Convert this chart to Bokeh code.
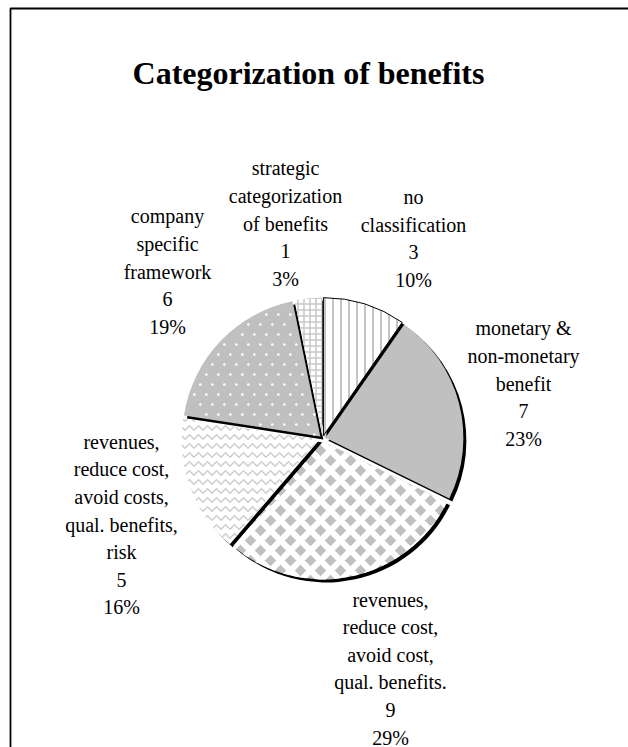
import numpy as np
from bokeh.plotting import figure
from bokeh.models import Range1d
from bokeh.core.properties import value
from bokeh.embed import file_html
from bokeh.resources import INLINE

# ---------------- data ----------------
title = "Categorization of benefits"
categories = [
    "no classification",
    "monetary & non-monetary benefit",
    "revenues, reduce cost, avoid cost, qual. benefits.",
    "revenues, reduce cost, avoid costs, qual. benefits, risk",
    "company specific framework",
    "strategic categorization of benefits",
]
label_lines = [
    ["no", "classification"],
    ["monetary &", "non-monetary", "benefit"],
    ["revenues,", "reduce cost,", "avoid cost,", "qual. benefits."],
    ["revenues,", "reduce cost,", "avoid costs,", "qual. benefits,", "risk"],
    ["company", "specific", "framework"],
    ["strategic", "categorization", "of benefits"],
]
counts = [3, 7, 9, 5, 6, 1]

# ---------------- layout (pixels, y measured from top) ----------------
W, H = 628, 747
CX, CY = 322, 438
R = 138
EXPLODE = 3
SHADOW = 3
label_pos = [(413, 238), (523, 383), (390, 668), (121, 524), (167, 271), (285, 223)]
LINE_H = 27.6
FONT = "Liberation Serif"

styles = [
    dict(fill_color="white", hatch_pattern="vertical_line", hatch_color="#c4c4c4", hatch_scale=8, hatch_weight=2,
         line_color="black", line_width=1),
    dict(fill_color="#c0c0c0", line_color=None),
    dict(fill_color="#c0c0c0", hatch_pattern="diagonal_cross", hatch_color="white", hatch_scale=20, hatch_weight=6,
         line_color=None),
    dict(fill_color="white", hatch_pattern="horizontal_wave", hatch_color="#cccccc", hatch_scale=9, hatch_weight=1.5,
         line_color=None),
    dict(fill_color="#c0c0c0", line_color=None),
    dict(fill_color="white", hatch_pattern="cross", hatch_color="#c8c8c8", hatch_scale=6, hatch_weight=1.5,
         line_color=None),
]
DOT_SLICE = 4          # slice index that gets the small white dot texture
DOT_DX, DOT_DY = 12, 10


def Y(y):
    return H - y


p = figure(width=W, height=H, x_range=Range1d(0, W), y_range=Range1d(0, H),
           output_backend="svg", toolbar_location=None, min_border=0)
p.axis.visible = False
p.grid.visible = False
p.outline_line_color = None
p.background_fill_color = "white"

# frame
p.line([10, 10, W + 5], [Y(H + 5), Y(8), Y(8)], line_color="black", line_width=1.8)

total = sum(counts)
fr = np.array(counts) / total
cum = np.concatenate([[0], np.cumsum(fr)])
starts = np.pi / 2 - 2 * np.pi * cum[1:]
ends = np.pi / 2 - 2 * np.pi * cum[:-1]
mids = (starts + ends) / 2
ox = CX + EXPLODE * np.cos(mids)
oy = Y(CY) + EXPLODE * np.sin(mids)

# shadows
for i in range(len(counts)):
    p.wedge(x=ox[i] + SHADOW, y=oy[i] - SHADOW, radius=R, start_angle=starts[i], end_angle=ends[i],
            fill_color="black", line_color=None)
# slices
for i in range(len(counts)):
    p.wedge(x=ox[i], y=oy[i], radius=R, start_angle=starts[i], end_angle=ends[i], **styles[i])

# small white dot texture for the "company specific framework" slice
i = DOT_SLICE
gx, gy = [], []
for r_i, yy in enumerate(np.arange(oy[i] - R, oy[i] + R, DOT_DY)):
    off = (DOT_DX / 2) * (r_i % 2)
    for xx in np.arange(ox[i] - R + off, ox[i] + R, DOT_DX):
        dx, dy = xx - ox[i], yy - oy[i]
        rr = np.hypot(dx, dy)
        if rr < 6 or rr > R - 4:
            continue
        a = np.arctan2(dy, dx)
        # normalise angle into [start, start + 2pi)
        a = (a - starts[i]) % (2 * np.pi) + starts[i]
        if starts[i] + 0.03 < a < ends[i] - 0.03:
            gx.append(xx)
            gy.append(yy)
p.scatter(gx, gy, size=2.6, marker="circle", fill_color="white", line_color=None)

# labels
for i in range(len(counts)):
    lines = label_lines[i] + [str(counts[i]), f"{round(100 * counts[i] / total)}%"]
    n = len(lines)
    lx, ly = label_pos[i]
    ys = [Y(ly + (k - (n - 1) / 2) * LINE_H) for k in range(n)]
    p.text(x=[lx] * n, y=ys, text=lines, text_align="center", text_baseline="middle",
           text_font=value(FONT), text_font_size="20px", text_color="black")

p.text(x=[308], y=[Y(72)], text=[title], text_align="center", text_baseline="middle",
       text_font=value(FONT), text_font_size="32px", text_font_style="bold", text_color="black")

open("out.html", "w").write(file_html(p, INLINE))
